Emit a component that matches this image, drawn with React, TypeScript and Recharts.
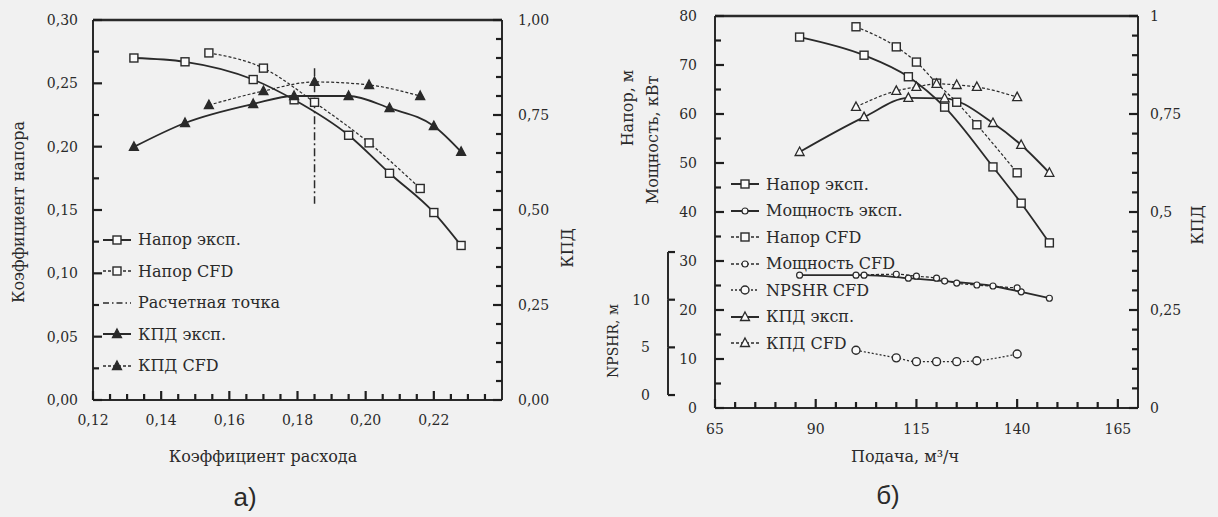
import React from 'react';
import { LineChart, Line, XAxis, YAxis, Legend } from 'recharts';

// ---------- chart а): dimensionless characteristics ----------
const headExpFlow = [0.132, 0.147, 0.167, 0.179, 0.195, 0.207, 0.22, 0.228];
const headExpCoef = [0.27, 0.267, 0.253, 0.237, 0.209, 0.179, 0.148, 0.122];
const effExpCoef = [0.666, 0.729, 0.779, 0.8, 0.8, 0.768, 0.721, 0.653];
const cfdFlowA = [0.154, 0.17, 0.185, 0.201, 0.216];
const headCfdCoef = [0.274, 0.262, 0.235, 0.203, 0.167];
const effCfdCoef = [0.776, 0.813, 0.837, 0.829, 0.8];
const designFlow = [0.185, 0.185];
const designHead = [0.262, 0.155];

const aFlowDomain = [0.12, 0.24];
const aHeadDomain = [0, 0.3];
const aFlowTicks = [0.12, 0.14, 0.16, 0.18, 0.2, 0.22, 0.24];
const aHeadTicks = [0, 0.05, 0.1, 0.15, 0.2, 0.25, 0.3];
const aEffTicks = [0, 0.25, 0.5, 0.75, 1];

// ---------- chart б): pump characteristics ----------
const expFlow = [86, 102, 113, 122, 134, 141, 148];
const headExp = [75.7, 72.0, 67.6, 61.4, 49.2, 41.8, 33.7];
const powerExp = [27.1, 27.1, 26.5, 25.9, 24.9, 23.7, 22.4];
const effExp = [0.653, 0.742, 0.791, 0.79, 0.727, 0.671, 0.6];
const cfdFlowB = [100, 110, 115, 120, 125, 130, 140];
const headCfd = [77.8, 73.7, 70.6, 66.3, 62.4, 57.8, 48.0];
const powerCfd = [27.1, 27.3, 26.9, 26.5, 25.5, 25.1, 24.5];
const effCfd = [0.768, 0.809, 0.819, 0.827, 0.824, 0.819, 0.793];
const npshrCfd = [4.7, 3.9, 3.5, 3.5, 3.5, 3.6, 4.3];

const bFlowDomain = [65, 170];
const bHeadDomain = [0, 80];
const bFlowTicks = [65, 90, 115, 140, 165];
const bHeadTicks = [0, 10, 20, 30, 40, 50, 60, 70, 80];
const bEffTicks = [0, 0.25, 0.5, 0.75, 1];
const bNpshrTicks = [0, 5, 10, 15];
const bNpshrLabels = [0, 5, 10];

const INK = '#2a2a2a';
const TICK = '#1e1e1e';
const FONT = '"DejaVu Serif", "Liberation Serif", serif';

const zip = (xs: number[], ys: number[]) => xs.map((x, i) => ({ x, y: ys[i] }));
const range = (a: number, b: number, step: number) => {
  const out: number[] = [];
  for (let v = a; v <= b + step / 1000; v += step) out.push(Math.round(v * 10000) / 10000);
  return out;
};
const isMajor = (v: number, majors: number[]) => majors.some((m) => Math.abs(m - v) < 1e-6);
const comma = (d: number) => (v: number) => v.toFixed(d).replace('.', ',');
const effFmtB = (v: number) => (v === 0 || v === 1 ? String(v) : String(v).replace('.', ','));

type Shape = 'square' | 'triangle' | 'circle' | 'dot';

function Marker({ cx, cy, shape, filled }: { cx: number; cy: number; shape: Shape; filled?: boolean }) {
  const fill = filled ? INK : '#fafafa';
  if (shape === 'square') return <rect x={cx - 4} y={cy - 4} width={8} height={8} fill={fill} stroke={INK} strokeWidth={1.4} />;
  if (shape === 'triangle')
    return <polygon points={`${cx},${cy - 5} ${cx + 4.5},${cy + 3.5} ${cx - 4.5},${cy + 3.5}`} fill={fill} stroke={INK} strokeWidth={1.3} />;
  if (shape === 'circle') return <circle cx={cx} cy={cy} r={4} fill={fill} stroke={INK} strokeWidth={1.4} />;
  return <circle cx={cx} cy={cy} r={3} fill={fill} stroke={INK} strokeWidth={1.2} />;
}

const makeDot = (shape: Shape, filled?: boolean) => (props: any) => {
  const { cx, cy, index } = props;
  if (cx == null || cy == null) return <g key={index} />;
  return <Marker key={index} cx={cx} cy={cy} shape={shape} filled={filled} />;
};

const tickText = { fontFamily: FONT, fontSize: 14, fill: INK } as const;
const MAJOR = 9;
const MINOR = 6;

// ticks point into the plot; majors are longer and labelled
const leftTick = (majors: number[], fmt: (v: number) => string, gap: number) => (p: any) => {
  const major = isMajor(p.payload.value, majors);
  return (
    <g>
      <line x1={p.x} x2={p.x + (major ? MAJOR : MINOR)} y1={p.y} y2={p.y} stroke={TICK} strokeWidth={2.2} />
      {major && (
        <text x={p.x - gap} y={p.y} textAnchor="end" dominantBaseline="central" {...tickText}>
          {fmt(p.payload.value)}
        </text>
      )}
    </g>
  );
};

const rightTick = (majors: number[], fmt: (v: number) => string, gap: number) => (p: any) => {
  const major = isMajor(p.payload.value, majors);
  return (
    <g>
      <line x1={p.x} x2={p.x - (major ? MAJOR : MINOR)} y1={p.y} y2={p.y} stroke={TICK} strokeWidth={2.2} />
      {major && (
        <text x={p.x + gap} y={p.y} textAnchor="start" dominantBaseline="central" {...tickText}>
          {fmt(p.payload.value)}
        </text>
      )}
    </g>
  );
};

const bottomTick = (majors: number[], fmt: (v: number) => string, gap: number) => (p: any) => {
  const major = isMajor(p.payload.value, majors);
  return (
    <g>
      <line x1={p.x} x2={p.x} y1={p.y} y2={p.y - (major ? MAJOR : MINOR)} stroke={TICK} strokeWidth={2.2} />
      {major && (
        <text x={p.x} y={p.y + gap} textAnchor="middle" dominantBaseline="central" {...tickText}>
          {fmt(p.payload.value)}
        </text>
      )}
    </g>
  );
};

// NPSHR scale only covers 0..15, so its spine is drawn piecewise from the ticks
const NPSHR_DOMAIN: [number, number] = [-1.36, 39.76];
const npshrTick = (plotH: number) => (p: any) => {
  const v = p.payload.value;
  const step = (5 * plotH) / (NPSHR_DOMAIN[1] - NPSHR_DOMAIN[0]);
  return (
    <g>
      <line x1={p.x} x2={p.x + 7} y1={p.y} y2={p.y} stroke={TICK} strokeWidth={2.2} />
      {v > 0 && <line x1={p.x} x2={p.x} y1={p.y} y2={p.y + step} stroke={INK} strokeWidth={2} />}
      {bNpshrLabels.includes(v) && (
        <text x={p.x - 18} y={p.y} textAnchor="end" dominantBaseline="central" {...tickText}>
          {v}
        </text>
      )}
    </g>
  );
};

interface LegendItem {
  name: string;
  dash?: string;
  shape?: Shape;
  filled?: boolean;
}

const legendA: LegendItem[] = [
  { name: 'Напор эксп.', shape: 'square' },
  { name: 'Напор CFD', dash: '3 2', shape: 'square' },
  { name: 'Расчетная точка', dash: '6 3 1.5 3' },
  { name: 'КПД эксп.', shape: 'triangle', filled: true },
  { name: 'КПД CFD', dash: '3 2', shape: 'triangle', filled: true },
];

const legendB: LegendItem[] = [
  { name: 'Напор эксп.', shape: 'square' },
  { name: 'Мощность эксп.', shape: 'dot' },
  { name: 'Напор CFD', dash: '3 2', shape: 'square' },
  { name: 'Мощность CFD', dash: '3 2', shape: 'dot' },
  { name: 'NPSHR CFD', dash: '2 2', shape: 'circle' },
  { name: 'КПД эксп.', shape: 'triangle' },
  { name: 'КПД CFD', dash: '3 2', shape: 'triangle' },
];

const legendContent = (items: LegendItem[], rowH: number) => () => (
  <div style={{ fontFamily: FONT, fontSize: 16, color: INK }}>
    {items.map((it) => (
      <div key={it.name} style={{ display: 'flex', alignItems: 'center', height: rowH, whiteSpace: 'nowrap' }}>
        <svg width={30} height={14} style={{ marginRight: 6 }}>
          <line x1={1} x2={29} y1={7} y2={7} stroke={INK} strokeWidth={it.dash ? 1.3 : 2} strokeDasharray={it.dash} />
          {it.shape && <Marker cx={15} cy={7} shape={it.shape} filled={it.filled} />}
        </svg>
        <span>{it.name}</span>
      </div>
    ))}
  </div>
);

const Title = ({ x, y, text, rotate, size = 16, family = FONT }: any) => (
  <div
    style={{
      position: 'absolute',
      left: x,
      top: y,
      transform: `translate(-50%, -50%)${rotate ? ' rotate(-90deg)' : ''}`,
      whiteSpace: 'nowrap',
      fontFamily: family,
      fontSize: size,
      color: INK,
    }}
  >
    {text}
  </div>
);

const frameAxis = { stroke: INK, strokeWidth: 2 };

// top edge of the frame, drawn as a plain series along the domain maximum
const topEdge = (xDomain: number[], yMax: number) => xDomain.map((x) => ({ x, y: yMax }));

function ChartA() {
  const margin = { top: 20, right: 48, bottom: 87, left: 43 };
  return (
    <LineChart width={600} height={517} margin={margin}>
      <XAxis
        type="number"
        dataKey="x"
        domain={aFlowDomain}
        ticks={range(0.12, 0.235, 0.005)}
        interval={0}
        height={30}
        tickLine={false}
        tickSize={0}
        tickMargin={0}
        axisLine={frameAxis}
        tick={bottomTick(aFlowTicks, comma(2), 20)}
      />
      <YAxis
        yAxisId="h"
        type="number"
        domain={aHeadDomain}
        ticks={range(0, 0.3, 0.025)}
        interval={0}
        width={50}
        tickLine={false}
        tickSize={0}
        tickMargin={0}
        axisLine={frameAxis}
        tick={leftTick(aHeadTicks, comma(2), 15)}
      />
      <YAxis
        yAxisId="e"
        orientation="right"
        type="number"
        domain={[0, 1]}
        ticks={range(0, 1, 0.05)}
        interval={0}
        width={50}
        tickLine={false}
        tickSize={0}
        tickMargin={0}
        axisLine={frameAxis}
        tick={rightTick(aEffTicks, comma(2), 16)}
      />
      <Line yAxisId="h" data={topEdge(aFlowDomain, aHeadDomain[1])} dataKey="y" type="linear" stroke={INK} strokeWidth={2.5} dot={false} isAnimationActive={false} />
      <Line yAxisId="h" data={zip(headExpFlow, headExpCoef)} dataKey="y" type="monotone" stroke={INK} strokeWidth={1.8} dot={makeDot('square')} isAnimationActive={false} />
      <Line yAxisId="h" data={zip(cfdFlowA, headCfdCoef)} dataKey="y" type="monotone" stroke={INK} strokeWidth={1.2} strokeDasharray="3 2" dot={makeDot('square')} isAnimationActive={false} />
      <Line yAxisId="h" data={zip(designFlow, designHead)} dataKey="y" type="linear" stroke={INK} strokeWidth={1.5} strokeDasharray="8 3 2 3" dot={false} isAnimationActive={false} />
      <Line yAxisId="e" data={zip(headExpFlow, effExpCoef)} dataKey="y" type="monotone" stroke={INK} strokeWidth={1.8} dot={makeDot('triangle', true)} isAnimationActive={false} />
      <Line yAxisId="e" data={zip(cfdFlowA, effCfdCoef)} dataKey="y" type="monotone" stroke={INK} strokeWidth={1.2} strokeDasharray="3 2" dot={makeDot('triangle', true)} isAnimationActive={false} />
      <Legend
        layout="vertical"
        align="center"
        verticalAlign="middle"
        wrapperStyle={{ left: 102, top: 224, width: 240 }}
        content={legendContent(legendA, 31.5)}
      />
    </LineChart>
  );
}

function ChartB() {
  const margin = { top: 16, right: 30, bottom: 79, left: 28 };
  const plotH = 517 - margin.top - margin.bottom - 30;
  return (
    <LineChart width={618} height={517} margin={margin}>
      <XAxis
        type="number"
        dataKey="x"
        domain={bFlowDomain}
        ticks={range(65, 165, 5)}
        interval={0}
        height={30}
        tickLine={false}
        tickSize={0}
        tickMargin={0}
        axisLine={frameAxis}
        tick={bottomTick(bFlowTicks, (v) => String(v), 21)}
      />
      <YAxis
        yAxisId="h"
        type="number"
        domain={bHeadDomain}
        ticks={range(0, 80, 5)}
        interval={0}
        width={47}
        tickLine={false}
        tickSize={0}
        tickMargin={0}
        axisLine={frameAxis}
        tick={leftTick(bHeadTicks, (v) => String(v), 18)}
      />
      <YAxis
        yAxisId="n"
        type="number"
        domain={NPSHR_DOMAIN}
        allowDataOverflow
        ticks={bNpshrTicks}
        interval={0}
        width={40}
        tickLine={false}
        tickSize={0}
        tickMargin={0}
        axisLine={false}
        tick={npshrTick(plotH)}
      />
      <YAxis
        yAxisId="e"
        orientation="right"
        type="number"
        domain={[0, 1]}
        ticks={range(0, 1, 0.05)}
        interval={0}
        width={50}
        tickLine={false}
        tickSize={0}
        tickMargin={0}
        axisLine={frameAxis}
        tick={rightTick(bEffTicks, effFmtB, 12)}
      />
      <Line yAxisId="h" data={topEdge(bFlowDomain, bHeadDomain[1])} dataKey="y" type="linear" stroke={INK} strokeWidth={2.5} dot={false} isAnimationActive={false} />
      <Line yAxisId="h" data={zip(expFlow, headExp)} dataKey="y" type="monotone" stroke={INK} strokeWidth={1.8} dot={makeDot('square')} isAnimationActive={false} />
      <Line yAxisId="h" data={zip(expFlow, powerExp)} dataKey="y" type="monotone" stroke={INK} strokeWidth={1.8} dot={makeDot('dot')} isAnimationActive={false} />
      <Line yAxisId="h" data={zip(cfdFlowB, headCfd)} dataKey="y" type="monotone" stroke={INK} strokeWidth={1.2} strokeDasharray="3 2" dot={makeDot('square')} isAnimationActive={false} />
      <Line yAxisId="h" data={zip(cfdFlowB, powerCfd)} dataKey="y" type="monotone" stroke={INK} strokeWidth={1.2} strokeDasharray="3 2" dot={makeDot('dot')} isAnimationActive={false} />
      <Line yAxisId="n" data={zip(cfdFlowB, npshrCfd)} dataKey="y" type="monotone" stroke={INK} strokeWidth={1.2} strokeDasharray="2 2" dot={makeDot('circle')} isAnimationActive={false} />
      <Line yAxisId="e" data={zip(expFlow, effExp)} dataKey="y" type="monotone" stroke={INK} strokeWidth={1.8} dot={makeDot('triangle')} isAnimationActive={false} />
      <Line yAxisId="e" data={zip(cfdFlowB, effCfd)} dataKey="y" type="monotone" stroke={INK} strokeWidth={1.2} strokeDasharray="3 2" dot={makeDot('triangle')} isAnimationActive={false} />
      <Legend
        layout="vertical"
        align="center"
        verticalAlign="middle"
        wrapperStyle={{ left: 130, top: 171, width: 240 }}
        content={legendContent(legendB, 26.5)}
      />
    </LineChart>
  );
}

export default function App() {
  return (
    <div style={{ position: 'absolute', left: 0, top: 0, width: 1218, height: 517, background: '#f1f1f1', overflow: 'hidden' }}>
      <div style={{ position: 'absolute', left: 0, top: 0 }}>
        <ChartA />
      </div>
      <div style={{ position: 'absolute', left: 600, top: 0 }}>
        <ChartB />
      </div>
      <Title x={18} y={212} text="Коэффициент напора" rotate />
      <Title x={567} y={248} text="КПД" rotate />
      <Title x={263} y={456} text="Коэффициент расхода" />
      <Title x={245} y={497} text="а)" size={26} family='"Liberation Sans", Arial, sans-serif' />
      <Title x={627} y={108} text="Напор, м" rotate />
      <Title x={652} y={140} text="Мощность, кВт" rotate />
      <Title x={613} y={341} text="NPSHR, м" rotate size={14} />
      <Title x={1197} y={225} text="КПД" rotate />
      <Title x={905} y={456} text="Подача, м³/ч" />
      <Title x={888} y={495} text="б)" size={26} family='"Liberation Sans", Arial, sans-serif' />
    </div>
  );
}
